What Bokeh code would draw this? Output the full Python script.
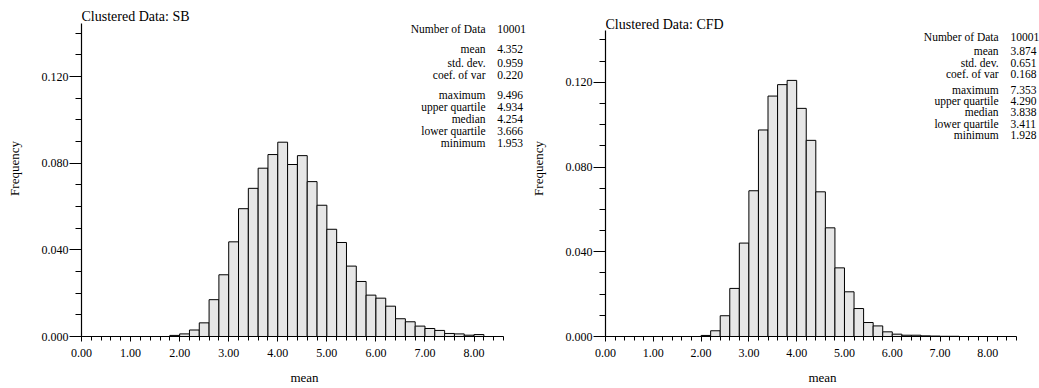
from bokeh.plotting import figure
from bokeh.layouts import row
from bokeh.models import FixedTicker, PrintfTickFormatter, Label, Range1d
from bokeh.embed import file_html
from bokeh.resources import INLINE

# ---------------- data ----------------
BIN_WIDTH = 0.2

sb_edges = [1.8, 2.0, 2.2, 2.4, 2.6, 2.8, 3.0, 3.2, 3.4, 3.6, 3.8, 4.0, 4.2, 4.4, 4.6, 4.8,
            5.0, 5.2, 5.4, 5.6, 5.8, 6.0, 6.2, 6.4, 6.6, 6.8, 7.0, 7.2, 7.4, 7.6, 7.8, 8.0]
sb_freq = [0.0005, 0.0012, 0.0030, 0.0063, 0.0170, 0.0285, 0.0437, 0.0590, 0.0684, 0.0777,
           0.0840, 0.0897, 0.0794, 0.0835, 0.0715, 0.0606, 0.0495, 0.0434, 0.0325, 0.0254,
           0.0191, 0.0177, 0.0140, 0.0082, 0.0068, 0.0048, 0.0037, 0.0028, 0.0014, 0.0012,
           0.0006, 0.0009]

cfd_edges = [2.0, 2.2, 2.4, 2.6, 2.8, 3.0, 3.2, 3.4, 3.6, 3.8, 4.0, 4.2, 4.4, 4.6, 4.8,
             5.0, 5.2, 5.4, 5.6, 5.8, 6.0, 6.2, 6.4, 6.6, 6.8, 7.0, 7.2]
cfd_freq = [0.0005, 0.0027, 0.0098, 0.0227, 0.0441, 0.0688, 0.0975, 0.1135, 0.1189, 0.1209,
            0.1077, 0.0926, 0.0683, 0.0513, 0.0324, 0.0211, 0.0132, 0.0066, 0.0050, 0.0022,
            0.0011, 0.0006, 0.0006, 0.0003, 0.0002, 0.0001, 0.0001]

stat_names = ["Number of Data", "mean", "std. dev.", "coef. of var", "maximum",
              "upper quartile", "median", "lower quartile", "minimum"]
sb_stats = ["10001", "4.352", "0.959", "0.220", "9.496", "4.934", "4.254", "3.666", "1.953"]
cfd_stats = ["10001", "3.874", "0.651", "0.168", "7.353", "4.290", "3.838", "3.411", "1.928"]

x_major_ticks = [0, 1, 2, 3, 4, 5, 6, 7, 8]
x_minor_ticks = [0.0, 0.2, 0.4, 0.6, 0.8, 1.0, 1.2, 1.4, 1.6, 1.8, 2.0, 2.2, 2.4, 2.6, 2.8,
                 3.0, 3.2, 3.4, 3.6, 3.8, 4.0, 4.2, 4.4, 4.6, 4.8, 5.0, 5.2, 5.4, 5.6, 5.8,
                 6.0, 6.2, 6.4, 6.6, 6.8, 7.0, 7.2, 7.4, 7.6, 7.8, 8.0, 8.2, 8.4, 8.6]
y_major_ticks = [0.0, 0.04, 0.08, 0.12]
y_minor_ticks = [0.0, 0.01, 0.02, 0.03, 0.04, 0.05, 0.06, 0.07, 0.08, 0.09, 0.10, 0.11,
                 0.12, 0.13, 0.14]

FONT = "Liberation Serif"
X_AXIS_END = 8.6
Y_AXIS_END = 0.1445
H = 388


def make_panel(title, edges, freq, stats, width, bl, bb, axis_w_px, axis_top_px,
               row_centers_px, name_x_px, value_x_px, title_y_px):
    # frame spans from the y axis to the right canvas edge and from the top edge
    # down to the x axis; the axes themselves are bounded to their drawn extents
    frame_w = width - bl
    frame_h = H - bb
    sx = axis_w_px / X_AXIS_END                 # px per x unit
    sy = (frame_h - axis_top_px) / Y_AXIS_END   # px per y unit
    x_end = frame_w / sx
    y_end = frame_h / sy

    p = figure(width=width, height=H, x_range=Range1d(0, x_end), y_range=Range1d(0, y_end),
               output_backend="svg", toolbar_location=None,
               min_border_left=bl, min_border_right=0, min_border_top=0, min_border_bottom=bb,
               x_axis_label="mean", y_axis_label="Frequency")
    p.outline_line_color = None
    p.grid.visible = False
    p.background_fill_color = "white"
    p.border_fill_color = "white"

    p.quad(left=edges, right=[e + BIN_WIDTH for e in edges], bottom=0, top=freq,
           fill_color="#e6e6e6", line_color="black", line_width=1)

    for ax in (p.xaxis[0], p.yaxis[0]):
        ax.axis_line_color = "black"
        ax.axis_line_width = 1.2
        ax.major_tick_line_color = "black"
        ax.minor_tick_line_color = "black"
        ax.major_tick_in = 0
        ax.minor_tick_in = 0
        ax.major_label_text_font = FONT
        ax.major_label_text_font_size = "12px"
        ax.major_label_text_color = "black"
        ax.axis_label_text_font = FONT
        ax.axis_label_text_font_size = "13px"
        ax.axis_label_text_font_style = "normal"
        ax.axis_label_text_color = "black"

    xa = p.xaxis[0]
    xa.bounds = (0, X_AXIS_END)
    xa.ticker = FixedTicker(ticks=x_major_ticks, minor_ticks=x_minor_ticks)
    xa.formatter = PrintfTickFormatter(format="%.2f")
    xa.major_tick_out = 5
    xa.minor_tick_out = 4
    xa.major_label_standoff = 7
    xa.axis_label_standoff = 10

    ya = p.yaxis[0]
    ya.bounds = (0, Y_AXIS_END)
    ya.ticker = FixedTicker(ticks=y_major_ticks, minor_ticks=y_minor_ticks)
    ya.formatter = PrintfTickFormatter(format="%.3f")
    ya.major_tick_out = 12
    ya.minor_tick_out = 6
    ya.major_label_standoff = 1
    ya.major_label_text_baseline = "alphabetic"
    ya.axis_label_standoff = 17

    def yd(px_from_top):
        return (frame_h - px_from_top) / sy

    p.add_layout(Label(x=0, y=yd(title_y_px), text=title, text_font=FONT,
                       text_font_size="14px", text_baseline="middle", text_align="left",
                       text_color="black"))

    for name, val, yc in zip(stat_names, stats, row_centers_px):
        p.add_layout(Label(x=name_x_px / sx, y=yd(yc), text=name, text_font=FONT,
                           text_font_size="11.5px", text_baseline="middle", text_align="right",
                           text_color="black"))
        p.add_layout(Label(x=value_x_px / sx, y=yd(yc), text=val, text_font=FONT,
                           text_font_size="11.5px", text_baseline="middle", text_align="left",
                           text_color="black"))
    return p


# the left canvas is a little wider than half so that its statistics column fits,
# the right canvas starts later by the same amount and keeps its axis in place
p1 = make_panel("Clustered Data: SB", sb_edges, sb_freq, sb_stats, 527, 81, 52,
                422, 23,
                [28.3, 48.3, 62.7, 74.3, 94.3, 106.7, 118.0, 130.7, 142.7],
                404, 415.7, 15.7)
p2 = make_panel("Clustered Data: CFD", cfd_edges, cfd_freq, cfd_stats, 512, 77, 51,
                412, 30,
                [36.7, 51.0, 62.3, 73.3, 90.0, 101.0, 112.3, 123.7, 135.0],
                394, 406, 24.0)

layout = row(p1, p2)
open("out.html", "w").write(file_html(layout, INLINE))
